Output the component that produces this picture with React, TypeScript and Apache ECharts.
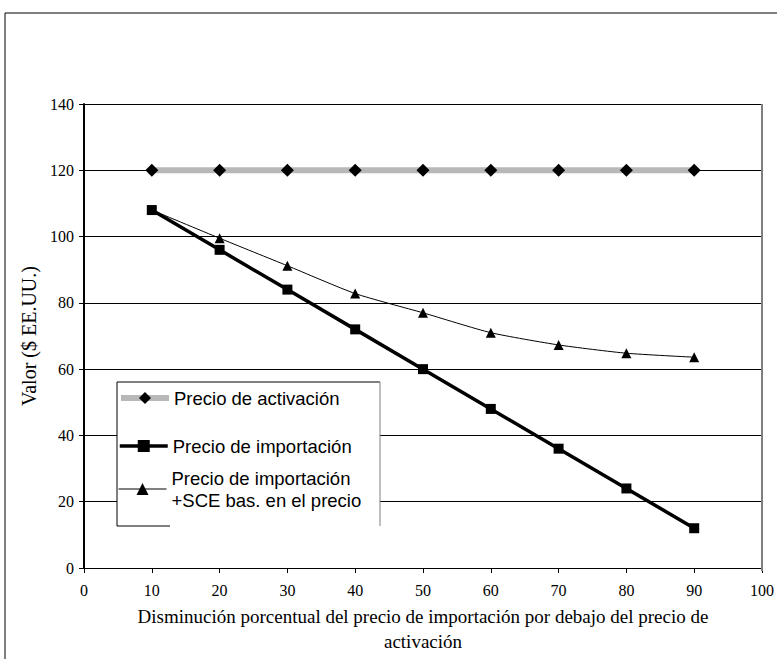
import React, { useEffect, useRef } from "react";
import * as echarts from "echarts";

const xValues = [10, 20, 30, 40, 50, 60, 70, 80, 90];
const activacion = [120, 120, 120, 120, 120, 120, 120, 120, 120];
const importacion = [108, 96, 84, 72, 60, 48, 36, 24, 12];
const importacionSCE = [108, 99.5, 91.2, 82.8, 77.0, 71.0, 67.3, 64.8, 63.6];
const seriesNames = [
  "Precio de activación",
  "Precio de importación",
  "Precio de importación\n+SCE bas. en el precio",
];
const xAxisTitle =
  "Disminución porcentual del precio de importación por debajo del precio de\nactivación";
const yAxisTitle = "Valor ($ EE.UU.)";

const SERIF = "'Liberation Serif', 'Times New Roman', serif";
const SANS = "'Liberation Sans', Arial, sans-serif";

export default function App() {
  const ref = useRef<HTMLDivElement>(null);
  useEffect(() => {
    if (!ref.current) return;
    const chart = echarts.init(ref.current, undefined, { renderer: "svg" });
    const pair = (ys: number[]) => xValues.map((x, i) => [x, ys[i]]);
    const legendBase = {
      orient: "vertical" as const,
      left: 118,
      padding: 0,
      itemWidth: 48,
      itemHeight: 15,
      textStyle: { fontFamily: SANS, fontSize: 18.5, color: "#000", lineHeight: 22 },
    };
    chart.setOption({
      animation: false,
      backgroundColor: "#fff",
      grid: { left: 84, right: 15, top: 104, bottom: 88, containLabel: false },
      xAxis: {
        type: "value",
        min: 0,
        max: 100,
        interval: 10,
        axisLine: { show: true, lineStyle: { color: "#000", width: 1 } },
        axisTick: { show: true, length: 5, lineStyle: { color: "#000" } },
        axisLabel: { fontFamily: SERIF, fontSize: 16, color: "#000", margin: 14 },
        splitLine: { show: false },
        name: xAxisTitle,
        nameLocation: "middle",
        nameGap: 36,
        nameTextStyle: { fontFamily: SERIF, fontSize: 19, color: "#000", lineHeight: 25 },
      },
      yAxis: {
        type: "value",
        min: 0,
        max: 140,
        interval: 20,
        axisLine: { show: true, lineStyle: { color: "#000", width: 2 } },
        axisTick: { show: true, length: 5, lineStyle: { color: "#000" } },
        axisLabel: { fontFamily: SERIF, fontSize: 16, color: "#000", margin: 10 },
        splitLine: { show: true, lineStyle: { color: "#000", width: 1 } },
        name: yAxisTitle,
        nameLocation: "middle",
        nameGap: 33,
        nameTextStyle: { fontFamily: SERIF, fontSize: 20, color: "#000" },
      },
      legend: [
        { ...legendBase, top: 387, data: [seriesNames[0]], lineStyle: { width: 6, color: "#b8b8b8" } },
        { ...legendBase, top: 435, data: [seriesNames[1]], lineStyle: { width: 3.5, color: "#000" } },
        { ...legendBase, top: 467, data: [seriesNames[2]], lineStyle: { width: 1, color: "#000" } },
      ],
      graphic: [
        {
          type: "rect",
          z: 100,
          silent: true,
          shape: { x: 5, y: 13, width: 800, height: 700 },
          style: { fill: "none", stroke: "#000", lineWidth: 1 },
        },
        {
          type: "rect",
          z: 3,
          silent: true,
          shape: { x: 117, y: 382, width: 263, height: 144 },
          style: { fill: "#fff", stroke: "none" },
        },
        {
          type: "line",
          z: 4,
          shape: { x1: 117, y1: 382, x2: 380, y2: 382 },
          style: { stroke: "#000", lineWidth: 1 },
        },
        {
          type: "line",
          z: 4,
          shape: { x1: 117, y1: 382, x2: 117, y2: 526 },
          style: { stroke: "#000", lineWidth: 1 },
        },
        {
          type: "line",
          z: 4,
          shape: { x1: 380, y1: 382, x2: 380, y2: 526 },
          style: { stroke: "#808080", lineWidth: 1 },
        },
        {
          type: "line",
          z: 4,
          shape: { x1: 117, y1: 526, x2: 170, y2: 526 },
          style: { stroke: "#000", lineWidth: 1 },
        },
        {
          type: "line",
          z: 4,
          shape: { x1: 762, y1: 104, x2: 762, y2: 571 },
          style: { stroke: "#808080", lineWidth: 2 },
        },
      ],
      series: [
        {
          name: seriesNames[0],
          type: "line",
          data: pair(activacion),
          symbol: "diamond",
          symbolSize: 13,
          lineStyle: { color: "#b8b8b8", width: 6 },
          itemStyle: { color: "#000" },
          z: 5,
        },
        {
          name: seriesNames[1],
          type: "line",
          data: pair(importacion),
          symbol: "rect",
          symbolSize: 10,
          lineStyle: { color: "#000", width: 3.5 },
          itemStyle: { color: "#000" },
          z: 6,
        },
        {
          name: seriesNames[2],
          type: "line",
          data: pair(importacionSCE),
          symbol: "triangle",
          symbolSize: 10,
          smooth: 0.2,
          lineStyle: { color: "#000", width: 1 },
          itemStyle: { color: "#000" },
          z: 5,
        },
      ],
    });
    return () => chart.dispose();
  }, []);
  return (
    <div
      ref={ref}
      style={{ position: "fixed", left: 0, top: 0, width: 777, height: 659, background: "#fff" }}
    />
  );
}
